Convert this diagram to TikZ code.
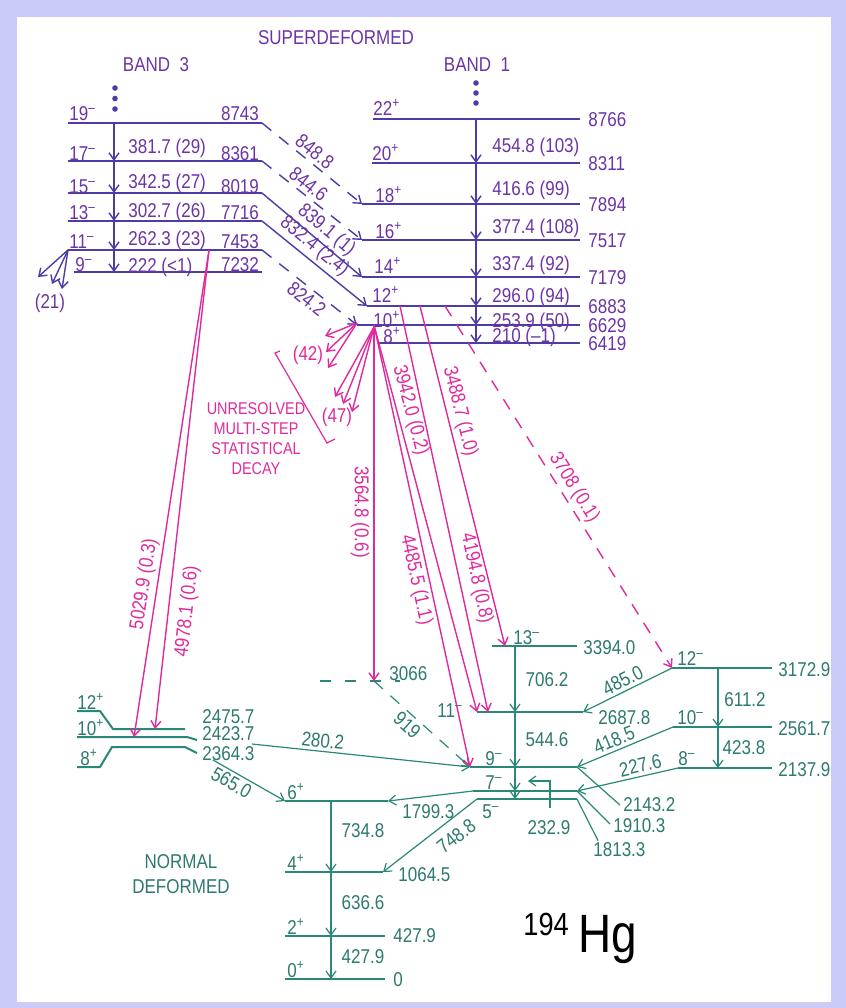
\documentclass[tikz,border=0pt]{standalone}
\usepackage{fontspec}
\setmainfont{Liberation Sans}[FakeStretch=0.85]
\usetikzlibrary{arrows.meta}
\definecolor{HgLilac}{HTML}{CBCBF7}
\definecolor{HgBlue}{HTML}{4B3CA8}
\definecolor{HgViolet}{HTML}{6C34A6}
\definecolor{HgMagenta}{HTML}{E02A9C}
\definecolor{HgTeal}{HTML}{2A8878}
\definecolor{HgTealText}{HTML}{2D7A6E}
\newcommand{\jplus}[1]{#1\textsuperscript{+}}
\newcommand{\jminus}[1]{#1\textsuperscript{–}}
\tikzset{
  barb/.style={-{Straight Barb[length=3.5pt,width=5pt]}},
  sdlevel/.style={HgBlue,line width=1pt},
  sdgamma/.style={HgBlue,line width=0.7pt,barb},
  sddash/.style={dash pattern=on 6pt off 5pt},
  sdtext/.style={text=HgViolet,inner sep=0pt},
  sdtrlab/.style={text=HgViolet,inner sep=1.5pt},
  longgamma/.style={HgMagenta,line width=0.7pt,barb},
  longlab/.style={text=HgMagenta,inner sep=1.5pt},
  ndlevel/.style={HgTeal,line width=1pt},
  ndgamma/.style={HgTeal,line width=0.6pt,barb},
  ndtext/.style={text=HgTealText,inner sep=0pt},
  ndtrlab/.style={text=HgTealText,inner sep=1.5pt},
  leader/.style={HgTeal,line width=0.6pt}
}
\begin{document}
\begin{tikzpicture}[x=0.5pt,y=-0.5pt,font=\fontsize{10}{12}\selectfont]
% page and frame
\fill[HgLilac] (0,0) rectangle (846,1008);
\fill[white] (17,17) rectangle (831,1002);

% headings
\node[sdtext] (sdhead) at (336,38) {SUPERDEFORMED};
\node[sdtext] (band3) at (156,65) {BAND~~3};
\node[sdtext] (band1) at (477,65) {BAND~~1};
\foreach \d in {0,1,2} {
  \fill[HgBlue] (115,88+10.5*\d) circle (1.4pt);
  \fill[HgBlue] (476,83+10*\d) circle (1.4pt);
}

% band 3
\coordinate (ax3) at (114,0);
\foreach \j/\y/\xl/\en/\yb in {19/123/68/8743/120,17/161/68/8361/160,15/193/68/8019/193,13/221/68/7716/219,11/250/68/7453/248,9/272/74/7232/271} {
  \draw[sdlevel] (\xl,\y) coordinate (b3L\j) -- (262,\y) coordinate (b3R\j);
  \node[sdtext,anchor=base west] (b3j\j) at (\xl+1,\yb) {\jminus{\j}};
  \node[sdtext,anchor=base] (b3e\j) at (240,\yb) {\en};
}
\foreach \ja/\jb in {19/17,17/15,15/13,13/11,11/9}
  \draw[sdgamma] (ax3 |- b3L\ja) -- (ax3 |- b3L\jb);
\foreach \lab/\yb [count=\i] in {381.7 (29)/153,342.5 (27)/188,302.7 (26)/217,262.3 (23)/245,222 (<1)/272}
  \node[sdtext,anchor=base west] (b3g\i) at (128,\yb) {\lab};
% decay out of band 3
\foreach \x/\y [count=\i] in {38/277,52/284,62/289} {
  \coordinate (out21\i) at (\x,\y);
  \draw[sdgamma] (b3L11) -- (out21\i);
}
\node[sdtext] (n21) at (50,303) {(21)};

% band 1
\coordinate (ax1) at (476,0);
\foreach \j/\y/\xl/\xs/\yb/\en in {22/119/373/373/115/8766,20/163/372/372/160/8311,18/204/362/375/202/7894,16/240/362/375/238/7517,14/277/362/374/273/7179,12/306/367/372/302/6883,10/325/357/373/327/6629,8/343/378/383/343/6419} {
  \draw[sdlevel] (\xl,\y) coordinate (b1L\j) -- (580,\y) coordinate (b1R\j);
  \node[sdtext,anchor=base west] (b1j\j) at (\xs,\yb) {\jplus{\j}};
  \node[sdtext,anchor=west] (b1e\j) at (588,\y+1) {\en};
}
\foreach \ja/\jb in {22/20,20/18,18/16,16/14,14/12,12/10,10/8}
  \draw[sdgamma] (ax1 |- b1L\ja) -- (ax1 |- b1L\jb);
\foreach \lab/\yb [count=\i] in {454.8 (103)/152,416.6 (99)/195,377.4 (108)/233,337.4 (92)/270,296.0 (94)/302,253.9 (50)/327,210 (–1)/342}
  \node[sdtext,anchor=base west] (b1g\i) at (492,\yb) {\lab};

% band 3 into band 1
\draw[sdgamma,sddash] (b3R19) -- node[sdtrlab,pos=0.46,sloped,above] (g8488) {848.8} (b1L18);
\draw[sdgamma,sddash] (b3R17) -- node[sdtrlab,pos=0.40,sloped,above] (g8446) {844.6} (b1L16);
\draw[sdgamma] (b3R15) -- node[sdtrlab,pos=0.56,sloped,above] (g8391) {839.1 (1)} (b1L14);
\draw[sdgamma] (b3R13) -- node[sdtrlab,pos=0.42,sloped,above] (g8324) {832.4 (2.4)} (b1L12);
\draw[sdgamma,sddash] (b3R11) -- node[sdtrlab,pos=0.54,sloped,below] (g8242) {824.2} (b1L10);

% normal deformed, positive parity
\draw[ndlevel] (77,711) -- (100,711) -- (113,729) -- (185,729);
\draw[ndlevel] (77,737) -- (187,737) -- (197,740);
\draw[ndlevel] (77,767) -- (100,767) -- (112,747) -- (185,747) -- (197,753);
\coordinate (nd12pA) at (155,729);
\coordinate (nd10pA) at (134,737);
\coordinate (nd10pT) at (252,744);
\coordinate (nd8pT) at (213,760);
\foreach \j/\x/\yb in {12/77/709,10/77/735,8/80/765}
  \node[ndtext,anchor=base west] (ndpjl\j) at (\x,\yb) {\jplus{\j}};
\foreach \en/\y [count=\i] in {2475.7/717,2423.7/734,2364.3/754}
  \node[ndtext,anchor=west] (ndpel\i) at (202,\y) {\en};
\coordinate (axnd) at (331,0);
\foreach \j/\y/\xr/\en/\xe/\ye in {6/801/388/1799.3/402/812,4/872/383/1064.5/398/875,2/936/385/427.9/393/936,0/979/385/0/393/980} {
  \draw[ndlevel] (285,\y) coordinate (ndpL\j) -- (\xr,\y) coordinate (ndpR\j);
  \node[ndtext,anchor=base west] (ndpj\j) at (287,\y-2) {\jplus{\j}};
  \node[ndtext,anchor=west] (ndpe\j) at (\xe,\ye) {\en};
}
\foreach \ja/\jb in {6/4,4/2,2/0}
  \draw[ndgamma] (axnd |- ndpL\ja) -- (axnd |- ndpL\jb);
\foreach \lab/\y [count=\i] in {734.8/831,636.6/903,427.9/957}
  \node[ndtext] (ndpg\i) at (363,\y) {\lab};
\node[ndtext,align=center,font=\fontsize{10}{12.5}\selectfont] (ndname) at (181,874) {NORMAL\\DEFORMED};

% normal deformed, negative parity
\foreach \j/\xl/\y/\xr in {13/492/646/577,11/477/712/583,9/470/767/577,7/473/791/577,5/477/799/577,12/672/668/772,10/673/727/772,8/678/768/772}
  \draw[ndlevel] (\xl,\y) coordinate (ndmL\j) -- (\xr,\y) coordinate (ndmR\j);
\foreach \j/\x/\yb in {13/513/644,11/437/717,9/485/765,7/485/789,5/482/818,12/677/665,10/677/724,8/678/765}
  \node[ndtext,anchor=base west] (ndmj\j) at (\x,\yb) {\jminus{\j}};
\foreach \en/\x/\y [count=\i] in {3394.0/583/648,2687.8/598/718,3172.9/778/670,2561.7/778/729,2137.9/778/770}
  \node[ndtext,anchor=west] (ndme\i) at (\x,\y) {\en};
\coordinate (axm) at (515,0);
\coordinate (axr) at (718,0);
\foreach \ja/\jb in {13/11,11/9,9/7,7/5}
  \draw[ndgamma] (axm |- ndmL\ja) -- (axm |- ndmL\jb);
\foreach \ja/\jb in {12/10,10/8}
  \draw[ndgamma] (axr |- ndmL\ja) -- (axr |- ndmL\jb);
\foreach \lab/\x/\y [count=\i] in {706.2/547/680,544.6/547/740,611.2/745/700,423.8/744/748}
  \node[ndtext] (ndmg\i) at (\x,\y) {\lab};
\draw[ndgamma] (ndmL12) -- node[ndtrlab,pos=0.5,sloped,above] (g4850) {485.0} (ndmR11);
\draw[ndgamma] (ndmL10) -- node[ndtrlab,pos=0.57,sloped,above] (g4185) {418.5} (ndmR9);
\draw[ndgamma] (ndmL8) -- node[ndtrlab,pos=0.35,sloped,above] (g2276) {227.6} (ndmR7);
\draw[ndgamma] (ndmL7) -- (ndpR6);
\draw[ndgamma] (ndmL5) -- node[ndtrlab,pos=0.33,sloped,below=3pt] (g7488) {748.8} (ndpR4);
\draw[ndgamma] (nd10pT) -- node[ndtrlab,pos=0.32,sloped,above] (g2802) {280.2} (ndmL9);
\draw[ndgamma] (nd8pT) -- node[ndtrlab,pos=0.33,sloped,below] (g5650) {565.0} (ndpL6);
% 232.9 hook
\coordinate (hookbot) at (550,808);
\coordinate (hookhd) at (528,781);
\draw[ndgamma] (hookbot) |- (hookhd);
\node[ndtext] (g2329) at (549,828) {232.9};
% energies with leaders
\node[ndtext,anchor=west] (e2143) at (623,805) {2143.2};
\node[ndtext,anchor=west] (e1910) at (613,826) {1910.3};
\node[ndtext,anchor=west] (e1813) at (593,850) {1813.3};
\draw[leader] (ndmR9) -- ([xshift=-1.5pt]e2143.west);
\draw[leader] (ndmR7) -- ([xshift=-1.5pt,yshift=1pt]e1910.west);
\draw[leader] (ndmR5) -- ([xshift=2.5pt,yshift=1pt]e1813.north west);
% 3066 level
\coordinate (nd3066) at (374,681);
\draw[ndlevel,dash pattern=on 5.5pt off 7pt] (320,681) -- (400,681);
\node[ndtext,anchor=base west] (e3066) at (389,680) {3066};
\draw[ndgamma,sddash] (nd3066) -- node[ndtrlab,pos=0.42,sloped,below] (g919) {919} (ndmL9);

% linking transitions, superdeformed to normal deformed
\coordinate (b3o11) at (209,250);
\coordinate (b1o10) at (374,325);
\coordinate (b1o12a) at (400,306);
\coordinate (b1o12b) at (420,306);
\coordinate (b1o12c) at (445,306);
\coordinate (ndmA11a) at (477,712);
\coordinate (ndmA11b) at (488,712);
\coordinate (ndmA13) at (505,646);
\draw[longgamma] (b3o11) -- node[longlab,pos=0.69,sloped,above] (g50299) {5029.9 (0.3)} (nd10pA);
\draw[longgamma] (b3o11) -- node[longlab,pos=0.75,sloped,below=3pt] (g49781) {4978.1 (0.6)} (nd12pA);
\draw[longgamma] (b1o10) -- (nd3066);
\node[longlab,rotate=-90] (g35648) at (360,512) {3564.8 (0.6)};
\draw[longgamma] (b1o10) -- node[longlab,pos=0.23,sloped,above] (g39420) {3942.0 (0.2)} (ndmA11a);
\draw[longgamma] (b1o10) -- node[longlab,pos=0.57,sloped,below] (g44855) {4485.5 (1.1)} (ndmL9);
\draw[longgamma] (b1o12a) -- node[longlab,pos=0.68,sloped,above=2pt] (g41948) {4194.8 (0.8)} (ndmA11b);
\draw[longgamma] (b1o12b) -- node[longlab,pos=0.32,sloped,above] (g34887) {3488.7 (1.0)} (ndmA13);
\draw[longgamma,sddash] (b1o12c) -- node[longlab,pos=0.52,sloped,above] (g3708) {3708 (0.1)} (ndmL12);

% unresolved statistical decay
\coordinate (sd10a) at (357,323);
\coordinate (sd10b) at (374,327);
\foreach \x/\y [count=\i] in {325/336,326/352,328/368} {
  \coordinate (st42\i) at (\x,\y);
  \draw[longgamma] (sd10a) -- (st42\i);
}
\foreach \x/\y [count=\i] in {335/397,343/404,352/412} {
  \coordinate (st47\i) at (\x,\y);
  \draw[longgamma] (sd10b) -- (st47\i);
}
\node[longlab,inner sep=0pt] (n42) at (308,355) {(42)};
\node[longlab,inner sep=0pt] (n47) at (337,417) {(47)};
\draw[HgMagenta,line width=0.6pt] (280,351) -- (275,353) -- (327,443) -- (335,439);
\node[longlab,inner sep=0pt,align=center,font=\fontsize{8.5}{10}\selectfont] (unres) at (256,439) {UNRESOLVED\\MULTI-STEP\\STATISTICAL\\DECAY};

% nucleus
\node[anchor=base west,inner sep=0pt,font=\fontsize{16}{16}\selectfont] (massno) at (523,935) {194};
\node[anchor=base west,inner sep=0pt,font=\fontsize{27}{27}\selectfont] (elem) at (578,952) {Hg};
\end{tikzpicture}
\end{document}
